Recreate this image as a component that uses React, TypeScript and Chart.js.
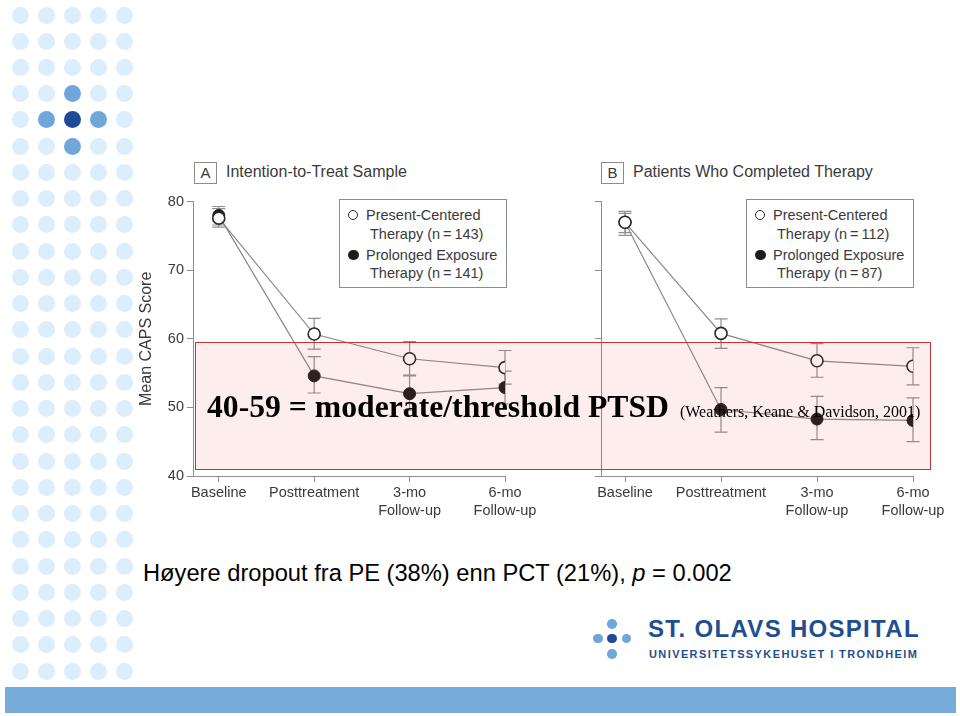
import React, { useEffect, useRef } from "react";
import { Chart, registerables } from "chart.js";
Chart.register(...registerables);

// ---------- data ----------
const categories: (string | string[])[] = ["Baseline", "Posttreatment", ["3-mo", "Follow-up"], ["6-mo", "Follow-up"]];
const yTickValues = [40, 50, 60, 70, 80];

// Panel A: Intention-to-Treat Sample
const pctA = [77.6, 60.7, 57.1, 55.8];
const pctALo = [76.3, 58.5, 54.7, 53.4];
const pctAHi = [79.0, 63.0, 59.6, 58.3];
const peA = [78.0, 54.6, 52.0, 52.9];
const peALo = [76.6, 52.1, 49.6, 50.5];
const peAHi = [79.3, 57.4, 54.6, 55.3];

// Panel B: Patients Who Completed Therapy
const pctB = [77.0, 60.8, 56.8, 56.0];
const pctBLo = [75.1, 58.6, 54.4, 53.3];
const pctBHi = [78.6, 62.9, 59.3, 58.7];
const peB = [77.0, 49.7, 48.3, 48.1];
const peBLo = [75.5, 46.4, 45.3, 45.0];
const peBHi = [78.3, 52.9, 51.6, 51.4];

const SANS = "'Liberation Sans', Arial, Helvetica, sans-serif";
const SERIF = "'Liberation Serif', 'Times New Roman', serif";
const AXIS = "#8c8c8c";
const TXT = "#3a3a3a";

const errorBarPlugin = {
  id: "errorBars",
  beforeDatasetsDraw(chart: any) {
    const ctx = chart.ctx;
    const xs = chart.scales.x;
    const ys = chart.scales.y;
    ctx.save();
    ctx.strokeStyle = "#8f8f8f";
    ctx.lineWidth = 1.2;
    chart.data.datasets.forEach((ds: any) => {
      const lo: number[] = ds.errLo;
      const hi: number[] = ds.errHi;
      ds.data.forEach((p: any, i: number) => {
        const x = xs.getPixelForValue(p.x);
        const y1 = ys.getPixelForValue(lo[i]);
        const y2 = ys.getPixelForValue(hi[i]);
        ctx.beginPath();
        ctx.moveTo(x, y1);
        ctx.lineTo(x, y2);
        ctx.moveTo(x - 6.5, y1);
        ctx.lineTo(x + 6.5, y1);
        ctx.moveTo(x - 6.5, y2);
        ctx.lineTo(x + 6.5, y2);
        ctx.stroke();
      });
    });
    ctx.restore();
  },
};

type PanelProps = {
  left: number;
  top: number;
  xMin: number;
  showYLabels: boolean;
  pct: number[]; pctLo: number[]; pctHi: number[];
  pe: number[]; peLo: number[]; peHi: number[];
};

function Panel(p: PanelProps) {
  const ref = useRef<HTMLCanvasElement>(null);
  useEffect(() => {
    const chart = new Chart(ref.current as HTMLCanvasElement, {
      type: "line",
      data: {
        datasets: [
          {
            label: "Present-Centered Therapy",
            data: p.pct.map((v, i) => ({ x: i, y: v })),
            borderColor: "#8a8a8a",
            borderWidth: 1.2,
            tension: 0,
            pointRadius: 6,
            pointBackgroundColor: "#ffffff",
            pointBorderColor: "#2a2a2a",
            pointBorderWidth: 1.6,
            errLo: p.pctLo,
            errHi: p.pctHi,
          } as any,
          {
            label: "Prolonged Exposure Therapy",
            data: p.pe.map((v, i) => ({ x: i, y: v })),
            borderColor: "#8a8a8a",
            borderWidth: 1.2,
            tension: 0,
            pointRadius: 6,
            pointBackgroundColor: "#1c1c1c",
            pointBorderColor: "#1c1c1c",
            pointBorderWidth: 1,
            errLo: p.peLo,
            errHi: p.peHi,
          } as any,
        ],
      },
      options: {
        responsive: false,
        animation: false,
        layout: { autoPadding: false, padding: { top: 10, right: 40, bottom: 0, left: 0 } },
        plugins: { legend: { display: false }, tooltip: { enabled: false } },
        scales: {
          x: {
            type: "linear",
            min: p.xMin,
            max: 3,
            afterBuildTicks: (a: any) => {
              a.ticks = categories.map((_, i) => ({ value: i }));
            },
            afterFit: (s: any) => {
              s.height = 54;
            },
            ticks: {
              callback: (v: any) => categories[v as number] ?? "",
              color: TXT,
              font: { family: SANS, size: 14.5, lineHeight: 1.25 },
              padding: 1.5,
              maxRotation: 0,
              autoSkip: false,
            },
            grid: { display: true, drawOnChartArea: false, tickLength: 6, color: AXIS },
            border: { color: AXIS, width: 1 },
          },
          y: {
            type: "linear",
            min: 40,
            max: 80,
            afterBuildTicks: (a: any) => {
              a.ticks = yTickValues.map((v) => ({ value: v }));
            },
            afterFit: (s: any) => {
              s.width = 58;
            },
            ticks: {
              callback: (v: any) => (p.showYLabels ? String(v) : ""),
              color: TXT,
              font: { family: SANS, size: 14.5 },
              padding: 3,
            },
            grid: { display: true, drawOnChartArea: false, tickLength: 6, color: AXIS },
            border: { color: AXIS, width: 1 },
            title: {
              display: p.showYLabels,
              text: "Mean CAPS Score",
              color: TXT,
              font: { family: SANS, size: 16 },
              padding: { top: 2.4, bottom: 0 },
            },
          },
        },
      } as any,
      plugins: [errorBarPlugin],
    });
    return () => chart.destroy();
  }, []);
  return (
    <canvas
      ref={ref}
      width={410}
      height={340}
      style={{ position: "absolute", left: p.left, top: p.top, width: 410, height: 340 }}
    />
  );
}

function Legend({ left, n1, n2 }: { left: number; n1: number; n2: number }) {
  const line = (top: number, x: number, text: string) => (
    <div style={{ position: "absolute", left: x - left, top: top - 199 - 9, height: 18, lineHeight: "18px", whiteSpace: "nowrap" }}>{text}</div>
  );
  return (
    <div
      style={{
        position: "absolute",
        left,
        top: 199,
        width: 166,
        height: 87,
        border: `1px solid ${AXIS}`,
        background: "#fff",
        fontFamily: SANS,
        fontSize: 14.5,
        color: TXT,
      }}
    >
      <div style={{ position: "absolute", left: 8, top: 9.5, width: 8, height: 8, borderRadius: "50%", border: "1.4px solid #2a2a2a", background: "#fff" }} />
      {line(214, left + 26, "Present-Centered")}
      {line(233, left + 30, `Therapy (n\u2009=\u2009${n1})`)}
      <div style={{ position: "absolute", left: 8, top: 49.5, width: 10.5, height: 10.5, borderRadius: "50%", background: "#1c1c1c" }} />
      {line(254, left + 26, "Prolonged Exposure")}
      {line(272, left + 30, `Therapy (n\u2009=\u2009${n2})`)}
    </div>
  );
}

function PanelTitle({ left, letter, text }: { left: number; letter: string; text: string }) {
  return (
    <>
      <div
        style={{
          position: "absolute",
          left,
          top: 162,
          width: 21,
          height: 20,
          border: `1px solid ${AXIS}`,
          fontFamily: SANS,
          fontSize: 15,
          color: TXT,
          textAlign: "center",
          lineHeight: "20px",
        }}
      >
        {letter}
      </div>
      <div
        style={{
          position: "absolute",
          left: left + 32,
          top: 162,
          lineHeight: "20px",
          fontFamily: SANS,
          fontSize: 16,
          color: TXT,
          whiteSpace: "nowrap",
        }}
      >
        {text}
      </div>
    </>
  );
}

const dotCols = [20, 46, 72, 98, 124];
const dotRows = Array.from({ length: 26 }, (_, k) => 15 + k * 26.24);

export default function App() {
  const dots: React.ReactNode[] = [];
  dotRows.forEach((y, r) => {
    dotCols.forEach((x, c) => {
      let color = "#dcedfb";
      if (r === 4 && c === 2) color = "#1f4a96";
      else if ((r === 3 && c === 2) || (r === 5 && c === 2) || (r === 4 && (c === 1 || c === 3))) color = "#6fa7da";
      dots.push(
        <div
          key={`${r}-${c}`}
          style={{ position: "absolute", left: x - 8.5, top: y - 8.5, width: 17, height: 17, borderRadius: "50%", background: color }}
        />
      );
    });
  });
  const logoDots = [
    [612, 624, "#6fa7da"],
    [598, 638.5, "#6fa7da"],
    [612, 638.5, "#1f4a96"],
    [626.5, 638.5, "#6fa7da"],
    [612, 654, "#6fa7da"],
  ] as [number, number, string][];

  return (
    <div style={{ position: "fixed", left: 0, top: 0, width: 960, height: 716, background: "#fff", overflow: "hidden" }}>
      {dots}

      <PanelTitle left={194} letter="A" text="Intention-to-Treat Sample" />
      <PanelTitle left={601} letter="B" text="Patients Who Completed Therapy" />

      <Panel left={135} top={190} xMin={-0.27} showYLabels={true}
        pct={pctA} pctLo={pctALo} pctHi={pctAHi} pe={peA} peLo={peALo} peHi={peAHi} />
      <Panel left={543} top={190} xMin={-0.25} showYLabels={false}
        pct={pctB} pctLo={pctBLo} pctHi={pctBHi} pe={peB} peLo={peBLo} peHi={peBHi} />

      <Legend left={339} n1={143} n2={141} />
      <Legend left={746} n1={112} n2={87} />

      {/* highlighted range 40-59 */}
      <div
        style={{
          position: "absolute",
          left: 195,
          top: 342,
          width: 734,
          height: 126,
          border: "1.5px solid #c83232",
          background: "rgba(230, 60, 60, 0.09)",
        }}
      />
      <div
        style={{
          position: "absolute",
          left: 207,
          top: 391,
          lineHeight: "32px",
          fontSize: 31.7,
          fontFamily: SERIF,
          color: "#000",
          whiteSpace: "nowrap",
        }}
      >
        <span style={{ fontWeight: "bold" }}>40-59 = moderate/threshold PTSD </span>
        <span style={{ fontSize: 16, marginLeft: 3 }}>(Weathers, Keane &amp; Davidson, 2001)</span>
      </div>

      <div
        style={{
          position: "absolute",
          left: 143,
          top: 562,
          fontFamily: SANS,
          fontSize: 23.7,
          lineHeight: "23.7px",
          color: "#000",
          whiteSpace: "nowrap",
        }}
      >
        Høyere dropout fra PE (38%) enn PCT (21%), <i>p</i> = 0.002
      </div>

      {logoDots.map(([x, y, c], i) => (
        <div key={i} style={{ position: "absolute", left: x - 4.8, top: y - 4.8, width: 9.6, height: 9.6, borderRadius: "50%", background: c }} />
      ))}
      <div
        style={{
          position: "absolute",
          left: 648,
          top: 617,
          fontFamily: SANS,
          fontWeight: "bold",
          fontSize: 24,
          lineHeight: "24px",
          letterSpacing: 1.3,
          color: "#1f4f8f",
          whiteSpace: "nowrap",
        }}
      >
        ST. OLAVS HOSPITAL
      </div>
      <div
        style={{
          position: "absolute",
          left: 649,
          top: 649,
          fontFamily: SANS,
          fontWeight: "bold",
          fontSize: 11,
          lineHeight: "11px",
          letterSpacing: 1.4,
          color: "#1f4f8f",
          whiteSpace: "nowrap",
        }}
      >
        UNIVERSITETSSYKEHUSET I TRONDHEIM
      </div>

      <div style={{ position: "absolute", left: 5, top: 687, width: 951, height: 26, background: "#76abda" }} />
    </div>
  );
}
